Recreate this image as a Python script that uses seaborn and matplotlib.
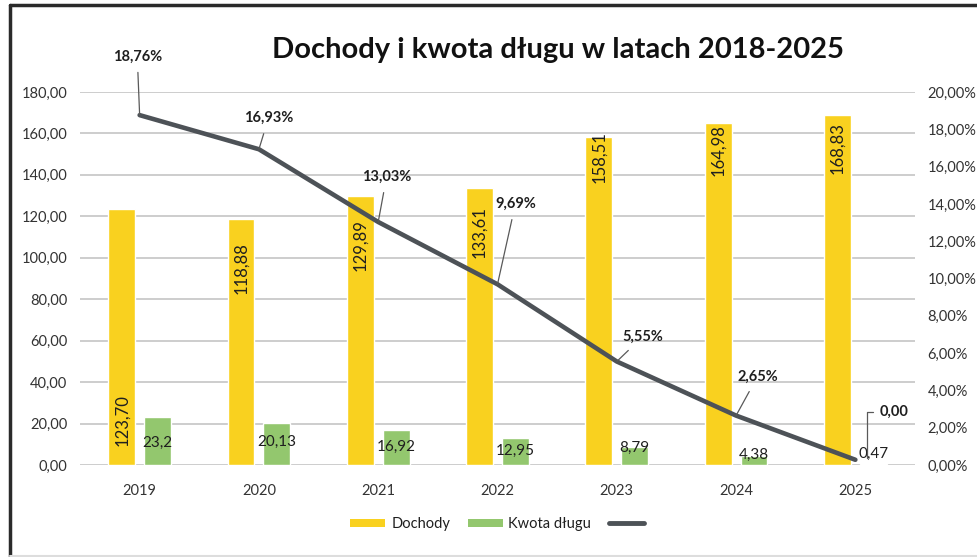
import numpy as np
import pandas as pd
import matplotlib
matplotlib.use("Agg")
import matplotlib.pyplot as plt
from matplotlib.lines import Line2D
from matplotlib.patches import Patch
import seaborn as sns

# data
years = ["2019", "2020", "2021", "2022", "2023", "2024", "2025"]
dochody = [123.70, 118.88, 129.89, 133.61, 158.51, 164.98, 168.83]
kwota_dlugu = [23.20, 20.13, 16.92, 12.95, 8.79, 4.38, 0.47]
udzial_pct = [18.76, 16.93, 13.03, 9.69, 5.55, 2.65, 0.28]

dochody_labels = ["123,70", "118,88", "129,89", "133,61", "158,51", "164,98", "168,83"]
kwota_labels = ["23,2", "20,13", "16,92", "12,95", "8,79", "4,38", "0,47"]
pct_labels = ["18,76%", "16,93%", "13,03%", "9,69%", "5,55%", "2,65%", "0,00"]

YELLOW = "#F9D11F"
GREEN = "#93C76E"
LINE = "#4D5257"
TXT = "#1F1F1F"
TICK = "#333333"
GRID = "#C9C9C9"

sns.set_style("white")
plt.rcParams["font.family"] = ["Lato", "DejaVu Sans"]

df = pd.DataFrame({
    "rok": years * 2,
    "seria": ["Dochody"] * len(years) + ["Kwota długu"] * len(years),
    "wartosc": dochody + kwota_dlugu,
})

fig = plt.figure(figsize=(9.77, 5.57), dpi=100)
ax = fig.add_axes([80 / 977, 1 - 465 / 557, 835 / 977, 373 / 557])

sns.barplot(data=df, x="rok", y="wartosc", hue="seria",
            palette=[YELLOW, GREEN], saturation=1, width=0.6, gap=0.25,
            errorbar=None, legend=False, ax=ax)

ax.set_xlim(-0.5, 6.5)
ax.set_ylim(0, 180)
ax.set_yticks(np.arange(0, 181, 20))
ax.set_yticklabels([f"{v:.2f}".replace(".", ",") for v in np.arange(0, 181, 20)])
ax.yaxis.grid(True, color=GRID, lw=1.3)
ax.set_axisbelow(True)
ax.set_xlabel("")
ax.set_ylabel("")
ax.tick_params(axis="y", length=0, pad=9, labelsize=10.5, labelcolor=TICK)
ax.tick_params(axis="x", length=0, pad=14, labelsize=10.5, labelcolor=TICK)
for s in ax.spines.values():
    s.set_visible(False)

# label positions inside the bars (left-axis units)
dochody_label_y = [21.7, 95, 106, 112.4, 148.6, 152, 153]
kwota_label_y = [10.6, 11, 8.7, 6.8, 8.2, 4.8, 5.3]
for i in range(len(years)):
    ax.text(i - 0.15, dochody_label_y[i], dochody_labels[i], rotation=90,
            ha="center", va="center", fontsize=12, color=TXT)
    ax.text(i + 0.15, kwota_label_y[i], kwota_labels[i],
            ha="center", va="center", fontsize=11, color=TXT)

ax2 = ax.twinx()
sns.lineplot(x=np.arange(len(years)), y=udzial_pct, color=LINE, lw=3.3, ax=ax2)
ax2.set_ylim(0, 20)
ax2.set_yticks(np.arange(0, 21, 2))
ax2.set_yticklabels([f"{v:.2f}%".replace(".", ",") for v in np.arange(0, 21, 2)])
ax2.tick_params(axis="y", length=0, pad=9, labelsize=10.5, labelcolor=TICK)
for s in ax2.spines.values():
    s.set_visible(False)

# line labels with leader lines (right-axis units)
pct_text_pos = [(-0.02, 21.9), (1.08, 18.6), (2.07, 15.45), (3.15, 14.0),
                (4.22, 6.9), (5.18, 4.75)]
for i, (tx, ty) in enumerate(pct_text_pos):
    ax2.annotate(pct_labels[i], xy=(i, udzial_pct[i]), xytext=(tx, ty),
                 ha="center", va="center", fontsize=10.5, fontweight="bold",
                 color=TXT, annotation_clip=False,
                 arrowprops=dict(arrowstyle="-", color="#595959", lw=0.9,
                                 shrinkA=4, shrinkB=0))
ax2.annotate(pct_labels[6], xy=(6.1, 0.4), xytext=(6.2, 2.84),
             ha="left", va="center", fontsize=10.5, fontweight="bold",
             color=TXT, annotation_clip=False,
             arrowprops=dict(arrowstyle="-", color="#595959", lw=0.9,
                             shrinkA=2, shrinkB=0,
                             connectionstyle="angle,angleA=180,angleB=90,rad=0"))

fig.text(558 / 977, 1 - 50 / 557, "Dochody i kwota długu w latach 2018-2025",
         ha="center", va="center", fontsize=21, fontweight="bold", color="#111111")

handles = [Patch(facecolor=YELLOW, edgecolor="none"),
           Patch(facecolor=GREEN, edgecolor="none"),
           Line2D([], [], color=LINE, lw=3.5)]
fig.legend(handles, ["Dochody", "Kwota długu", ""], loc="center",
           bbox_to_anchor=(500 / 977, 1 - 524 / 557), ncol=3, frameon=False,
           fontsize=10.5, handlelength=2.4, handleheight=0.5, columnspacing=1.2,
           handletextpad=0.4, labelcolor=TXT)

# outer frame of the original graphic
fig.add_artist(Line2D([10 / 977, 10 / 977], [0, 1 - 5 / 557], color="#2A2A2A",
                      lw=2.5, transform=fig.transFigure))
fig.add_artist(Line2D([10 / 977, 1], [1 - 5 / 557, 1 - 5 / 557], color="#2A2A2A",
                      lw=2.5, transform=fig.transFigure))
fig.add_artist(Line2D([10 / 977, 1], [1.5 / 557, 1.5 / 557], color="#DDDDDD",
                      lw=1.5, transform=fig.transFigure))

fig.savefig("out.png", dpi=100)
